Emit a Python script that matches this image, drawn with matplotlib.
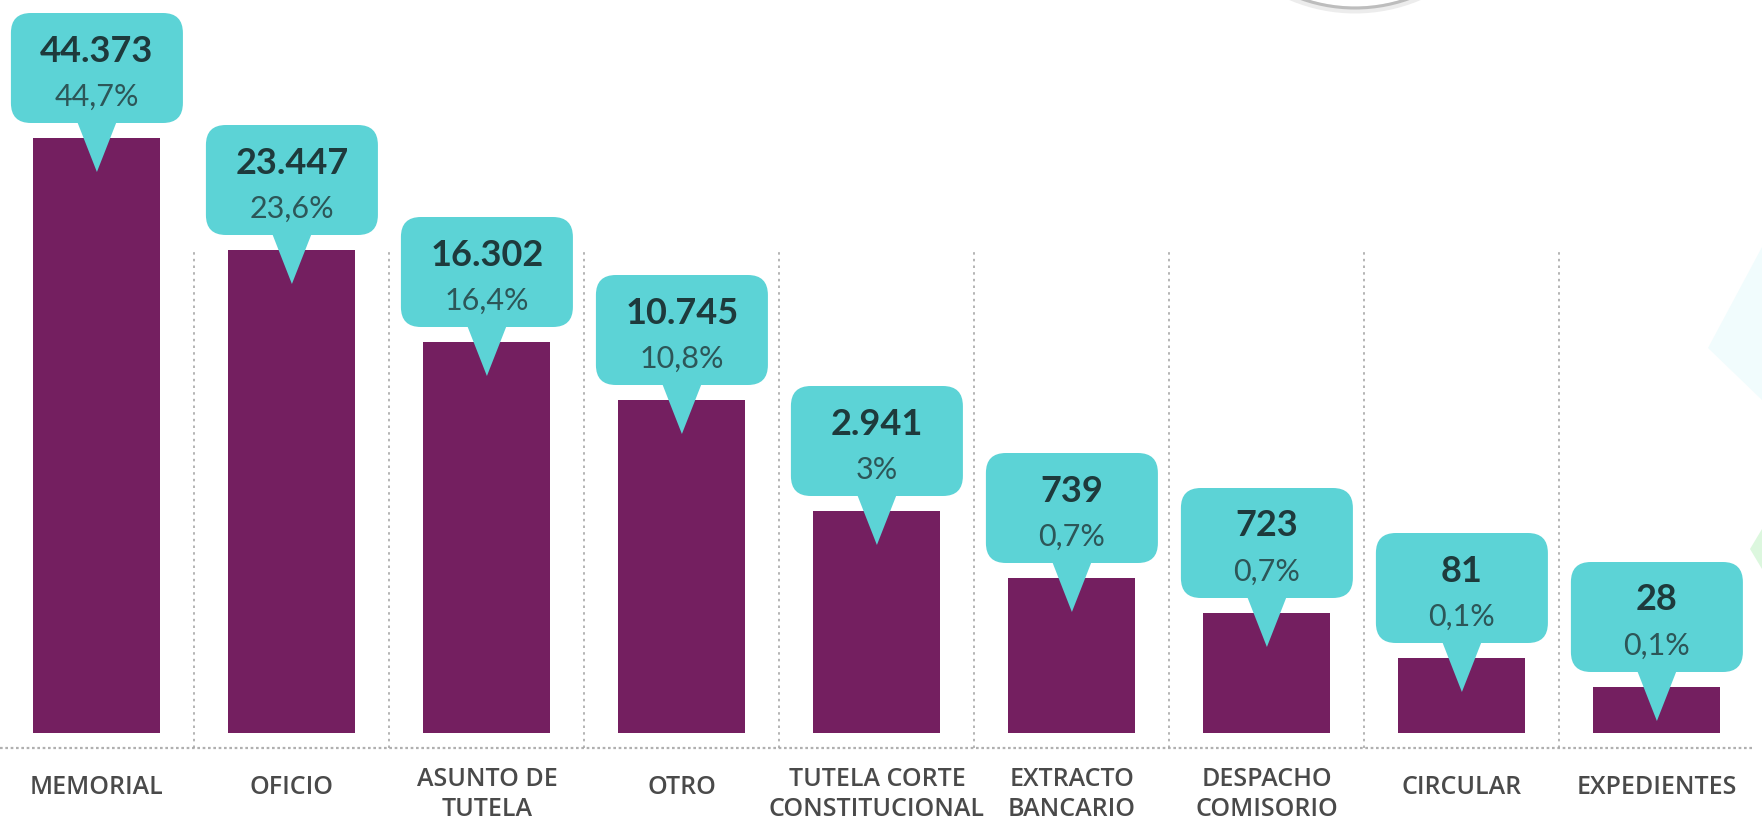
import matplotlib
matplotlib.use("Agg")
import matplotlib.pyplot as plt
from matplotlib.patches import FancyBboxPatch, Polygon, Circle

# data read from the infographic
categories = ["MEMORIAL", "OFICIO", "ASUNTO DE\nTUTELA", "OTRO",
              "TUTELA CORTE\nCONSTITUCIONAL", "EXTRACTO\nBANCARIO",
              "DESPACHO\nCOMISORIO", "CIRCULAR", "EXPEDIENTES"]
counts = [44373, 23447, 16302, 10745, 2941, 739, 723, 81, 28]
percents = [44.7, 23.6, 16.4, 10.8, 3, 0.7, 0.7, 0.1, 0.1]
# bars in the original are decorative (not to scale): displayed heights
bar_height = [595, 483, 391, 333, 222, 155, 120, 75, 46]

purple = "#741f60"
cyan = "#5cd3d6"
dark = "#1e3a3c"
pct_col = "#2d5658"
label_col = "#4a4a4a"

W, H = 1762, 824
fig = plt.figure(figsize=(W / 100, H / 100), dpi=100)
ax = fig.add_axes([0, 0, 1, 1])
ax.set_xlim(-0.497, 8.539)
ax.set_ylim(-91, 733)
ax.axis("off")

step = 195.0  # px per category
x = list(range(len(categories)))

ax.bar(x, bar_height, width=127 / step, color=purple, zorder=2)

# dotted baseline and separators
ax.plot([-0.497, 8.49], [-15, -15], color="#b0b0b0", lw=1.6,
        ls=(0, (1.2, 1.2)), zorder=1)
for i in range(len(categories) - 1):
    ax.plot([i + 0.5, i + 0.5], [-15, 485], color="#a8a8a8", lw=1.2,
            ls=(0, (1.5, 2.5)), zorder=1)

box_w = 172 / step
box_h = 110
gap = 15
for i, (h, v, p) in enumerate(zip(bar_height, counts, percents)):
    b0 = h + gap
    box = FancyBboxPatch((i - box_w / 2, b0), box_w, box_h,
                         boxstyle=f"round,pad=0,rounding_size={20 / step}",
                         mutation_aspect=step, fc=cyan, ec="none", zorder=3)
    ax.add_patch(box)
    tri = Polygon([(i - 20 / step, b0 + 2), (i + 20 / step, b0 + 2), (i, h - 34)],
                  closed=True, fc=cyan, ec="none", zorder=3)
    ax.add_patch(tri)
    ax.text(i, b0 + box_h - 38, f"{v:,}".replace(",", "."), ha="center",
            va="center", fontsize=26, fontweight="bold", color=dark,
            family="Lato", zorder=4)
    ax.text(i, b0 + box_h - 84, f"{p:g}".replace(".", ",") + "%",
            ha="center", va="center", fontsize=22, color=pct_col,
            family="Lato", zorder=4)

for i, c in enumerate(categories):
    y = -61.5 if "\n" in c else -54
    ax.text(i, y, c, ha="center", va="center", fontsize=18, color=label_col,
            family="Open Sans", fontweight="semibold", linespacing=1.3)

# decorations: circle edge at top and faint shapes on the right
t = fig.dpi_scale_trans
fig.patches.append(Circle((13.55, 9.78), 1.64, transform=t, fill=False,
                          ec="#ececec", lw=5))
fig.patches.append(Circle((13.55, 9.76), 1.6, transform=t, fill=False,
                          ec="#bdbdbd", lw=2.2))
fig.patches.append(Polygon([(17.62, 5.77), (17.08, 4.76), (17.62, 4.24)],
                           closed=True, transform=t, fc="#f1fcfd", ec="none"))
fig.patches.append(Polygon([(17.62, 2.95), (17.50, 2.75), (17.62, 2.55)],
                           closed=True, transform=t, fc="#dcf7de", ec="none"))

fig.savefig("out.png", dpi=100)
